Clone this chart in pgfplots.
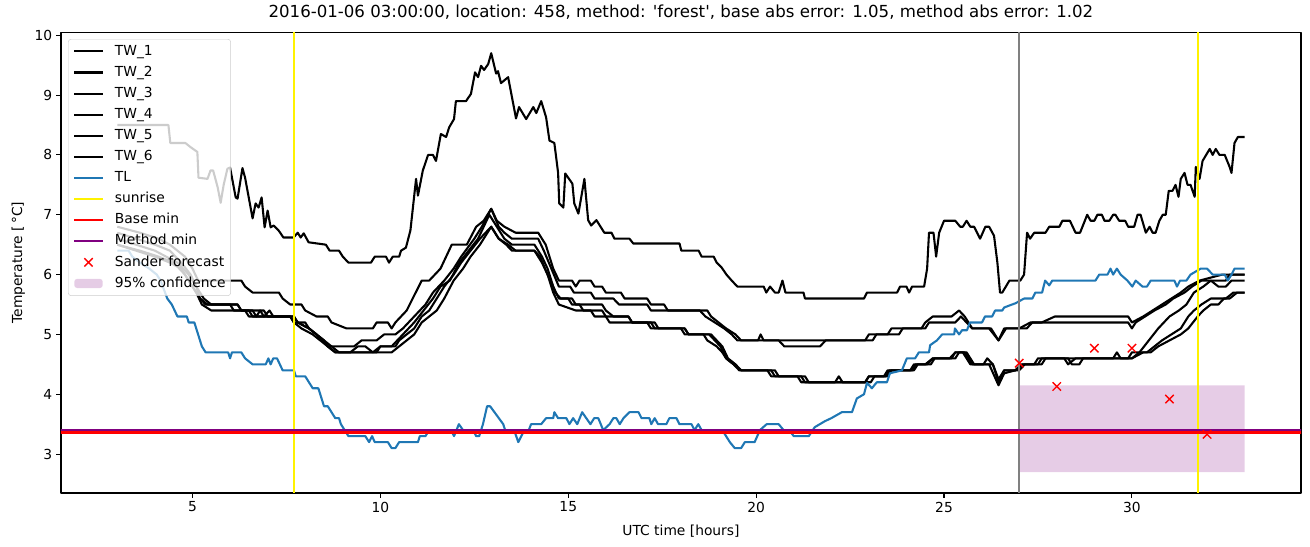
\documentclass[border=0pt]{standalone}
\usepackage{fontspec}
\setmainfont{DejaVu Sans}
\usepackage{pgfplots}
\pgfplotsset{compat=1.18}
\definecolor{tlblue}{HTML}{1F77B4}
\definecolor{mplpurple}{RGB}{128,0,128}
\pgfplotsset{
  lineleg/.style={legend image code/.code={\draw[##1] (0bp,0bp) -- (25bp,0bp);}},
  markleg/.style={legend image code/.code={\draw[##1] plot coordinates {(12.5bp,0bp)};}},
  arealeg/.style={legend image code/.code={\fill[##1] (0bp,-4bp) rectangle (25bp,4bp);}},
}
\begin{document}
\begin{tikzpicture}
\begin{axis}[
  scale only axis, width=1090.5bp, height=405.1bp,
  xmin=1.5, xmax=34.5, ymin=2.35, ymax=10.05,
  xtick={5,10,15,20,25,30}, ytick={3,4,5,6,7,8,9,10},
  tick pos=left, tick align=outside, major tick length=4.2bp,
  every tick/.style={black, line width=0.98bp},
  axis line style={line width=0.98bp},
  /pgf/number format/assume math mode=true,
  ticklabel style={font=\fontsize{12.2}{14}\selectfont},
  label style={font=\fontsize{12.2}{14}\selectfont},
  xlabel={UTC time [hours]}, ylabel={Temperature [\,°C]},
  xlabel style={yshift=-4.4bp}, ylabel style={yshift=1.5bp},
  title={2016-01-06 03:00:00, location: 458, method: \textquotesingle forest\textquotesingle, base abs error: 1.05, method abs error: 1.02},
  title style={font=\fontsize{14.65}{17}\selectfont, at={(0.5,1)}, anchor=base, yshift=7.3bp},
  legend cell align=left,
  legend style={at={(0.0057,0.9854)}, anchor=north west, draw=black!20, fill=white, fill opacity=0.8, text opacity=1,
    rounded corners=2.5bp, inner xsep=4.4bp, inner ysep=4.6bp, row sep=6.35bp,
    nodes={inner sep=0bp, text height=9.3bp, text depth=2.9bp},
    /tikz/column 2/.style={column sep=0bp}, /tikz/column 1/.style={column sep=9.8bp},
    font=\fontsize{12.2}{14}\selectfont},
  line join=round,
]
% confidence area
\addplot[forget plot, draw=none, fill=mplpurple, fill opacity=0.2] coordinates {(27,2.7) (33,2.7) (33,4.15) (27,4.15) (27,2.7)};
% TW_1
\addplot[forget plot, black, line width=1.83bp] coordinates {
(3.0,8.5)(4.36,8.5)(4.41,8.2)(4.81,8.2)(4.95,8.13)(5.13,8.05)(5.16,7.62)(5.4,7.6)(5.48,7.74)(5.55,7.74)(5.67,7.46)(5.75,7.2)(5.83,7.5)(5.93,7.77)(6.0,7.79)(6.15,7.29)(6.2,7.27)(6.33,7.78)(6.4,7.62)(6.6,6.94)(6.68,7.19)(6.76,7.12)(6.84,7.29)(6.92,6.79)(7.0,7.07)(7.08,6.79)(7.16,6.82)(7.29,6.74)(7.42,6.62)(7.69,6.62)(7.8,6.7)(7.88,6.62)(7.96,6.69)(8.09,6.54)(8.55,6.5)(8.65,6.4)(8.9,6.4)(9.0,6.3)(9.15,6.2)(9.75,6.2)(9.85,6.3)(10.15,6.3)(10.23,6.2)(10.33,6.3)(10.5,6.3)(10.55,6.4)(10.68,6.45)(10.8,6.74)(10.95,7.6)(11.0,7.32)(11.13,7.74)(11.27,8.0)(11.4,8.0)(11.48,7.9)(11.61,8.35)(11.75,8.3)(11.83,8.46)(11.96,8.6)(12.01,8.9)(12.28,8.9)(12.41,9.02)(12.52,9.38)(12.6,9.3)(12.68,9.49)(12.76,9.42)(12.87,9.52)(12.95,9.7)(13.08,9.36)(13.13,9.4)(13.21,9.2)(13.4,9.3)(13.61,8.61)(13.69,8.8)(13.88,8.6)(14.07,8.8)(14.15,8.7)(14.28,8.9)(14.41,8.63)(14.5,8.24)(14.63,8.2)(14.73,7.7)(14.76,7.19)(14.87,7.12)(14.92,7.69)(15.11,7.52)(15.16,7.19)(15.27,7.02)(15.43,7.6)(15.53,6.91)(15.61,6.82)(15.75,6.91)(15.96,6.7)(16.15,6.7)(16.23,6.6)(16.63,6.6)(16.73,6.52)(17.96,6.52)(18.01,6.4)(18.47,6.4)(18.55,6.3)(18.87,6.3)(18.95,6.2)(19.08,6.12)(19.21,6.0)(19.35,5.9)(19.5,5.8)(20.2,5.8)(20.27,5.7)(20.37,5.8)(20.5,5.7)(20.6,5.7)(20.7,5.9)(20.78,5.7)(21.26,5.7)(21.3,5.6)(22.87,5.6)(22.95,5.7)(23.75,5.7)(23.83,5.8)(24.0,5.8)(24.07,5.7)(24.15,5.8)(24.47,5.8)(24.55,6.1)(24.6,6.7)(24.72,6.7)(24.79,6.3)(24.87,6.7)(25.0,6.9)(25.3,6.9)(25.43,6.8)(25.5,6.8)(25.6,6.9)(25.7,6.8)(25.8,6.8)(25.96,6.6)(26.1,6.8)(26.2,6.8)(26.33,6.65)(26.42,6.2)(26.49,5.7)(26.55,5.7)(26.74,5.9)(27.03,5.9)(27.13,6.0)(27.21,6.7)(27.29,6.6)(27.4,6.7)(27.7,6.7)(27.8,6.8)(28.07,6.8)(28.15,6.9)(28.35,6.9)(28.5,6.7)(28.62,6.7)(28.81,7.0)(28.9,6.9)(29.0,6.9)(29.08,7.0)(29.2,7.0)(29.27,6.9)(29.4,6.9)(29.5,7.0)(29.56,7.0)(29.66,6.9)(29.82,6.9)(29.9,6.8)(30.06,6.8)(30.15,7.0)(30.23,7.0)(30.37,6.7)(30.47,6.8)(30.55,6.7)(30.63,6.7)(30.73,6.9)(30.82,7.0)(30.9,7.0)(30.98,7.4)(31.08,7.4)(31.16,7.5)(31.24,7.3)(31.3,7.6)(31.4,7.7)(31.48,7.5)(31.56,7.5)(31.67,7.3)(31.7,7.8)(31.8,7.6)(31.88,7.9)(32.07,8.1)(32.15,8.0)(32.23,8.1)(32.33,8.0)(32.47,8.0)(32.6,7.8)(32.65,7.7)(32.73,8.2)(32.82,8.3)(33.0,8.3)};
% TW_2
\addplot[forget plot, black, line width=1.83bp] coordinates {
(3.0,6.8)(3.6,6.7)(4.1,6.6)(4.4,6.5)(4.8,6.3)(5.0,6.1)(5.15,5.9)(6.3,5.9)(6.4,5.8)(6.6,5.7)(7.3,5.7)(7.4,5.6)(7.6,5.5)(7.9,5.5)(8.0,5.4)(8.3,5.3)(8.6,5.3)(8.7,5.2)(9.1,5.1)(9.8,5.1)(9.9,5.2)(10.2,5.2)(10.3,5.1)(10.4,5.2)(10.55,5.3)(10.7,5.4)(11.1,5.9)(11.3,5.9)(11.6,6.1)(11.9,6.5)(12.3,6.5)(12.55,6.8)(12.75,6.9)(12.95,7.1)(13.1,6.9)(13.3,6.8)(13.6,6.7)(14.2,6.7)(14.4,6.5)(14.6,6.1)(14.75,5.9)(15.1,5.9)(15.2,5.8)(15.3,5.9)(15.6,5.9)(15.7,5.8)(15.9,5.8)(16.0,5.7)(16.4,5.7)(16.5,5.6)(17.1,5.6)(17.2,5.5)(17.55,5.5)(17.65,5.4)(18.7,5.4)(18.8,5.3)(19.0,5.2)(19.2,5.1)(19.45,5.0)(19.6,4.9)(20.05,4.9)(20.12,5.0)(20.2,4.9)(22.9,4.9)(23.0,5.0)(23.5,5.0)(23.6,5.1)(24.4,5.1)(24.5,5.2)(24.7,5.3)(25.2,5.3)(25.4,5.4)(25.55,5.3)(25.75,5.1)(26.2,5.1)(26.45,4.9)(26.6,5.1)(27.0,5.1)(27.3,5.2)(27.6,5.2)(27.95,5.3)(29.9,5.3)(30.0,5.2)(30.3,5.3)(30.55,5.4)(30.8,5.5)(31.05,5.6)(31.3,5.7)(31.5,5.8)(31.8,5.9)(32.4,6.0)(33.0,6.0)};
% TW_3
\addplot[forget plot, black, line width=1.83bp] coordinates {
(3.0,6.7)(3.5,6.6)(4.0,6.5)(4.4,6.4)(4.7,6.2)(4.95,6.0)(5.1,5.8)(5.3,5.6)(5.5,5.5)(6.2,5.5)(6.3,5.4)(6.9,5.4)(7.0,5.3)(7.7,5.3)(7.8,5.2)(8.1,5.1)(8.3,5.0)(8.5,4.9)(8.6,4.8)(9.3,4.8)(9.5,4.9)(9.9,4.9)(10.1,5.0)(10.4,5.0)(10.6,5.1)(10.9,5.3)(11.2,5.5)(11.4,5.7)(11.7,5.9)(11.95,6.1)(12.15,6.3)(12.5,6.6)(12.7,6.8)(12.95,7.1)(13.15,6.8)(13.3,6.7)(13.5,6.6)(14.2,6.6)(14.35,6.4)(14.55,6.1)(14.75,5.8)(15.05,5.8)(15.15,5.7)(15.6,5.7)(15.7,5.6)(16.2,5.6)(16.35,5.5)(17.1,5.5)(17.2,5.4)(18.5,5.4)(18.65,5.3)(18.9,5.2)(19.15,5.1)(19.35,5.0)(19.5,4.9)(20.6,4.9)(20.75,4.8)(21.7,4.8)(21.85,4.9)(23.1,4.9)(23.2,5.0)(23.8,5.0)(23.9,5.1)(24.5,5.1)(24.6,5.2)(25.3,5.2)(25.45,5.3)(25.6,5.2)(25.75,5.1)(26.25,5.1)(26.45,4.9)(26.65,5.1)(27.2,5.1)(27.35,5.2)(29.9,5.2)(30.0,5.1)(30.1,5.2)(30.35,5.3)(30.6,5.4)(30.9,5.5)(31.1,5.6)(31.4,5.7)(31.6,5.8)(31.85,5.9)(32.5,5.9)(32.6,6.0)(33.0,6.0)};
% TW_4
\addplot[forget plot, black, line width=1.83bp] coordinates {
(3.0,6.6)(3.5,6.5)(4.0,6.4)(4.3,6.3)(4.6,6.2)(4.9,6.0)(5.1,5.8)(5.2,5.6)(5.4,5.5)(6.2,5.5)(6.3,5.4)(6.6,5.4)(6.7,5.3)(6.8,5.4)(6.9,5.3)(7.05,5.4)(7.15,5.3)(7.6,5.3)(7.7,5.2)(8.0,5.2)(8.1,5.1)(8.3,5.0)(8.5,4.9)(8.7,4.8)(8.9,4.7)(9.9,4.7)(10.0,4.8)(10.4,4.8)(10.5,4.9)(10.7,5.0)(10.9,5.1)(11.1,5.3)(11.3,5.4)(11.5,5.6)(11.7,5.8)(11.95,6.0)(12.15,6.2)(12.4,6.4)(12.65,6.6)(12.95,6.8)(13.15,6.6)(13.4,6.5)(13.6,6.4)(14.1,6.4)(14.25,6.3)(14.45,6.0)(14.6,5.8)(14.75,5.6)(15.1,5.6)(15.2,5.5)(15.9,5.5)(16.0,5.4)(16.2,5.3)(16.6,5.3)(16.7,5.2)(17.2,5.2)(17.3,5.1)(18.1,5.1)(18.2,5.0)(18.8,5.0)(18.95,4.9)(19.1,4.8)(19.25,4.6)(19.45,4.5)(19.6,4.4)(20.5,4.4)(20.6,4.3)(21.2,4.3)(21.3,4.2)(22.1,4.2)(22.2,4.3)(22.3,4.2)(22.9,4.2)(23.0,4.3)(23.4,4.3)(23.5,4.4)(24.1,4.4)(24.2,4.5)(24.5,4.5)(24.7,4.6)(25.2,4.6)(25.3,4.7)(25.55,4.7)(25.75,4.5)(26.05,4.5)(26.15,4.6)(26.3,4.5)(26.45,4.2)(26.6,4.4)(26.9,4.4)(27.1,4.5)(27.5,4.5)(27.6,4.6)(29.9,4.6)(30.0,4.7)(30.4,4.7)(30.6,4.8)(30.8,4.9)(31.05,5.0)(31.3,5.1)(31.5,5.3)(31.65,5.4)(31.85,5.5)(32.1,5.6)(32.5,5.6)(32.7,5.7)(33.0,5.7)};
% TW_5
\addplot[forget plot, black, line width=1.83bp] coordinates {
(3.0,6.5)(3.5,6.4)(4.0,6.3)(4.4,6.2)(4.7,6.1)(4.9,5.9)(5.1,5.7)(5.25,5.5)(5.5,5.4)(6.4,5.4)(6.5,5.3)(7.7,5.3)(7.8,5.2)(8.1,5.1)(8.3,5.0)(8.45,4.9)(8.6,4.8)(8.8,4.7)(10.3,4.7)(10.5,4.8)(10.7,4.9)(10.9,5.0)(11.1,5.2)(11.3,5.3)(11.5,5.4)(11.7,5.6)(11.95,5.9)(12.2,6.1)(12.4,6.3)(12.65,6.5)(12.95,6.8)(13.15,6.6)(13.35,6.5)(13.5,6.4)(14.1,6.4)(14.3,6.2)(14.45,6.0)(14.6,5.7)(14.75,5.5)(15.2,5.4)(15.6,5.4)(15.7,5.3)(16.0,5.3)(16.1,5.2)(17.1,5.2)(17.2,5.1)(18.0,5.1)(18.1,5.0)(18.6,5.0)(18.7,4.9)(18.95,4.8)(19.1,4.7)(19.2,4.6)(19.4,4.5)(19.55,4.4)(20.3,4.4)(20.4,4.3)(21.3,4.3)(21.4,4.2)(23.05,4.2)(23.15,4.3)(23.5,4.3)(23.6,4.4)(24.2,4.4)(24.3,4.5)(24.65,4.5)(24.75,4.6)(25.3,4.6)(25.4,4.7)(25.6,4.7)(25.8,4.5)(26.1,4.5)(26.3,4.5)(26.45,4.25)(26.6,4.4)(27.0,4.4)(27.15,4.5)(27.6,4.5)(27.7,4.6)(28.2,4.6)(28.3,4.5)(28.5,4.6)(29.5,4.6)(29.6,4.7)(29.7,4.6)(30.0,4.6)(30.2,4.7)(30.45,4.9)(30.7,5.1)(31.0,5.3)(31.25,5.4)(31.45,5.5)(31.65,5.7)(31.9,5.8)(32.1,5.9)(32.3,5.8)(32.5,5.8)(32.65,5.9)(33.0,5.9)};
% TW_6
\addplot[forget plot, black, line width=1.83bp] coordinates {
(3.0,6.5)(3.6,6.4)(4.1,6.3)(4.5,6.2)(4.8,6.0)(5.0,5.8)(5.2,5.6)(5.35,5.5)(6.0,5.5)(6.1,5.4)(6.5,5.4)(6.6,5.3)(7.6,5.3)(7.7,5.2)(7.9,5.1)(8.2,5.0)(8.4,4.9)(8.6,4.8)(8.8,4.7)(9.2,4.7)(9.4,4.8)(9.6,4.8)(9.8,4.7)(10.0,4.8)(10.3,4.8)(10.45,4.9)(10.6,5.0)(10.75,5.1)(10.9,5.2)(11.15,5.4)(11.4,5.6)(11.6,5.8)(11.85,5.9)(12.1,6.2)(12.35,6.4)(12.6,6.6)(12.9,7.0)(13.1,6.8)(13.3,6.6)(13.5,6.5)(14.1,6.5)(14.3,6.3)(14.45,6.1)(14.65,5.7)(14.8,5.6)(15.0,5.6)(15.1,5.5)(15.3,5.5)(15.4,5.4)(15.9,5.4)(16.0,5.3)(16.6,5.3)(16.7,5.2)(17.3,5.2)(17.4,5.1)(18.1,5.1)(18.2,5.0)(18.75,5.0)(18.9,4.9)(19.05,4.8)(19.2,4.6)(19.4,4.5)(19.6,4.4)(20.4,4.4)(20.5,4.3)(21.1,4.3)(21.2,4.2)(22.9,4.2)(23.0,4.3)(23.45,4.3)(23.55,4.4)(24.15,4.4)(24.25,4.5)(24.55,4.5)(24.7,4.6)(25.15,4.6)(25.3,4.7)(25.5,4.7)(25.7,4.5)(26.0,4.5)(26.2,4.5)(26.45,4.15)(26.6,4.35)(26.9,4.4)(27.05,4.5)(27.4,4.5)(27.5,4.6)(28.3,4.6)(28.4,4.5)(28.6,4.5)(28.7,4.6)(30.0,4.6)(30.3,4.7)(30.5,4.7)(30.7,4.8)(31.0,4.9)(31.3,5.0)(31.5,5.1)(31.75,5.3)(31.9,5.4)(32.1,5.5)(32.3,5.5)(32.45,5.6)(32.6,5.6)(32.8,5.7)(33.0,5.7)};
% TL
\addplot[forget plot, tlblue, line width=1.83bp] coordinates {
(3.0,6.4)(3.3,6.4)(3.4,6.3)(3.6,6.2)(3.85,6.1)(4.05,6.0)(4.15,5.9)(4.33,5.6)(4.45,5.5)(4.6,5.3)(4.85,5.3)(4.9,5.2)(5.05,5.2)(5.15,5.0)(5.25,4.8)(5.35,4.7)(5.95,4.7)(6.0,4.6)(6.05,4.7)(6.3,4.7)(6.4,4.6)(6.6,4.5)(6.95,4.5)(7.02,4.6)(7.08,4.5)(7.15,4.6)(7.25,4.6)(7.4,4.4)(7.7,4.4)(7.75,4.3)(8.0,4.3)(8.1,4.2)(8.2,4.1)(8.35,4.1)(8.45,3.9)(8.5,3.8)(8.6,3.8)(8.7,3.7)(8.8,3.6)(8.9,3.6)(8.95,3.5)(9.05,3.4)(9.15,3.3)(9.6,3.3)(9.7,3.2)(9.78,3.3)(9.85,3.2)(10.2,3.2)(10.3,3.1)(10.4,3.1)(10.5,3.2)(11.0,3.2)(11.05,3.3)(11.2,3.3)(11.3,3.4)(11.88,3.4)(11.96,3.3)(12.09,3.5)(12.2,3.4)(12.47,3.4)(12.55,3.3)(12.63,3.3)(12.73,3.5)(12.84,3.8)(12.92,3.8)(13.27,3.5)(13.32,3.4)(13.56,3.4)(13.67,3.2)(13.83,3.4)(13.95,3.4)(14.01,3.5)(14.28,3.5)(14.41,3.6)(14.6,3.6)(14.63,3.7)(14.73,3.6)(14.95,3.6)(15.03,3.5)(15.13,3.6)(15.24,3.5)(15.37,3.7)(15.48,3.6)(15.59,3.5)(15.69,3.6)(15.8,3.6)(15.93,3.4)(16.1,3.5)(16.2,3.6)(16.28,3.6)(16.37,3.5)(16.47,3.6)(16.63,3.7)(16.87,3.7)(16.95,3.6)(17.16,3.6)(17.21,3.5)(17.3,3.6)(17.39,3.5)(17.61,3.5)(17.69,3.6)(17.88,3.6)(17.96,3.5)(18.28,3.5)(18.36,3.4)(18.46,3.5)(18.55,3.4)(19.1,3.4)(19.2,3.3)(19.3,3.2)(19.43,3.1)(19.6,3.1)(19.7,3.2)(19.96,3.2)(20.1,3.4)(20.28,3.5)(20.6,3.5)(20.73,3.4)(20.88,3.4)(21.0,3.3)(21.4,3.3)(21.56,3.45)(21.83,3.55)(22.0,3.6)(22.28,3.7)(22.55,3.7)(22.68,3.93)(22.87,4.0)(22.95,4.19)(23.08,4.1)(23.21,4.2)(23.48,4.2)(23.56,4.35)(23.88,4.4)(24.01,4.6)(24.23,4.6)(24.33,4.7)(24.6,4.7)(24.63,4.82)(24.81,4.9)(24.95,5.0)(25.27,5.0)(25.29,5.1)(25.4,5.0)(25.48,5.07)(25.61,5.07)(25.69,5.2)(26.01,5.2)(26.09,5.3)(26.28,5.3)(26.36,5.4)(26.55,5.4)(26.6,5.45)(26.81,5.5)(26.9,5.52)(27.13,5.6)(27.35,5.6)(27.43,5.7)(27.61,5.7)(27.69,5.9)(27.8,5.82)(27.88,5.9)(29.03,5.9)(29.13,6.0)(29.35,6.0)(29.43,6.1)(29.5,6.0)(29.6,6.1)(29.7,6.0)(29.88,5.9)(30.01,5.8)(30.1,5.9)(30.28,5.8)(30.4,5.8)(30.5,5.9)(31.13,5.9)(31.2,5.8)(31.28,5.9)(31.45,5.9)(31.56,6.0)(31.83,6.1)(32.0,6.1)(32.15,6.0)(32.47,6.0)(32.55,5.9)(32.65,6.0)(32.73,6.1)(33.0,6.1)};
% vertical lines
\addplot[forget plot, gray, line width=1.83bp] coordinates {(27.0,2.0) (27.0,11.0)};
\addplot[forget plot, yellow, line width=1.83bp] coordinates {(7.69,2.0) (7.69,11.0)};
\addplot[forget plot, yellow, line width=1.83bp] coordinates {(31.77,2.0) (31.77,11.0)};
% min lines
\addplot[forget plot, red, line width=2.8bp] coordinates {(0,3.355) (40,3.355)};
\addplot[forget plot, mplpurple, line width=1.5bp] coordinates {(0,3.397) (40,3.397)};
% Sander forecast
\addplot[forget plot, only marks, mark=x, red, mark size=5.2bp, mark options={line width=1.22bp}] coordinates {
(27,4.52)(28,4.13)(29,4.77)(30,4.77)(31,3.92)(32,3.33)};
% legend
\addlegendimage{lineleg, black, line width=1.83bp}\addlegendentry{TW\_1}
\addlegendimage{lineleg, black, line width=1.83bp}\addlegendentry{TW\_2}
\addlegendimage{lineleg, black, line width=1.83bp}\addlegendentry{TW\_3}
\addlegendimage{lineleg, black, line width=1.83bp}\addlegendentry{TW\_4}
\addlegendimage{lineleg, black, line width=1.83bp}\addlegendentry{TW\_5}
\addlegendimage{lineleg, black, line width=1.83bp}\addlegendentry{TW\_6}
\addlegendimage{lineleg, tlblue, line width=1.83bp}\addlegendentry{TL}
\addlegendimage{lineleg, yellow, line width=1.83bp}\addlegendentry{sunrise}
\addlegendimage{lineleg, red, line width=1.83bp}\addlegendentry{Base min}
\addlegendimage{lineleg, mplpurple, line width=1.83bp}\addlegendentry{Method min}
\addlegendimage{markleg, only marks, red, mark=x, mark size=5.2bp, mark options={line width=1.22bp}}\addlegendentry{Sander forecast}
\addlegendimage{arealeg, draw=none, fill=mplpurple, fill opacity=0.2}\addlegendentry{95\% confidence}
\end{axis}
\pgfresetboundingbox
\path[use as bounding box] ([xshift=-53.6bp,yshift=-47.5bp]current axis.south west) rectangle ([xshift=7.9bp,yshift=28.4bp]current axis.north east);
\end{tikzpicture}
\end{document}
